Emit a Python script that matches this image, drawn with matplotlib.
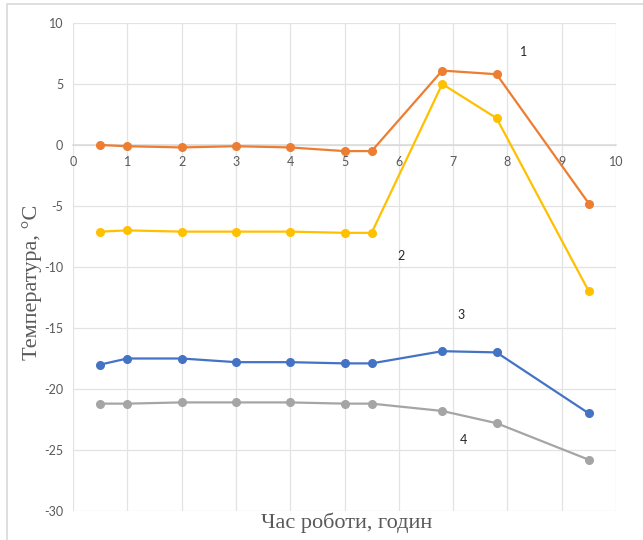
import matplotlib
matplotlib.use("Agg")
import matplotlib.pyplot as plt
from matplotlib.patches import Rectangle

plt.rcParams['axes.unicode_minus'] = False
plt.rcParams['font.family'] = ['Lato', 'DejaVu Sans']

# hours of operation
hours = [0.5, 1, 2, 3, 4, 5, 5.5, 6.8, 7.8, 9.5]

temp_1 = [0.0, -0.1, -0.2, -0.1, -0.2, -0.5, -0.5, 6.1, 5.8, -4.8]
temp_2 = [-7.1, -7.0, -7.1, -7.1, -7.1, -7.2, -7.2, 5.0, 2.2, -12.0]
temp_3 = [-18.0, -17.5, -17.5, -17.8, -17.8, -17.9, -17.9, -16.9, -17.0, -22.0]
temp_4 = [-21.2, -21.2, -21.1, -21.1, -21.1, -21.2, -21.2, -21.8, -22.8, -25.8]

curve_names = ['1', '2', '3', '4']
name_x = [8.3, 6.05, 7.15, 7.2]
name_y = [7.6, -9.1, -13.9, -24.2]

colors = ['#ED7D31', '#FFC000', '#4472C4', '#A5A5A5']
GRID = '#e3e3e3'

fig = plt.figure(figsize=(6.43, 5.40), dpi=100)
ax = fig.add_axes([73/643, 1-511/540, 543/643, 488/540])

# outer chart frame (only left and top edges are visible in the crop)
fig.patches.append(Rectangle((7/643, -0.1), 1.2, 1-4/540+0.1, transform=fig.transFigure,
                             fill=False, edgecolor='#d9d9d9', linewidth=1.2))

for ys, c in zip([temp_1, temp_2, temp_3, temp_4], colors):
    ax.plot(hours, ys, color=c, linewidth=1.6, marker='o', markersize=5.5, zorder=3)

for name, tx, ty in zip(curve_names, name_x, name_y):
    ax.text(tx, ty, name, fontsize=9, color='#262626', ha='center', va='center')

ax.set_xlim(0, 10)
ax.set_ylim(-30, 10)
ax.set_xticks(range(0, 11))
ax.set_yticks(range(-30, 11, 5))
ax.grid(True, color=GRID, linewidth=0.9)
ax.set_axisbelow(True)

for s in ['top', 'right', 'left']:
    ax.spines[s].set_visible(False)
ax.spines['bottom'].set_position(('data', 0))
ax.spines['bottom'].set_color('#d9d9d9')
ax.spines['bottom'].set_linewidth(1.1)

ax.tick_params(axis='both', length=0, labelsize=9, labelcolor='#595959')
ax.tick_params(axis='y', pad=7)
ax.tick_params(axis='x', pad=8)

ax.set_ylabel('Температура, °С', family='Liberation Serif', fontsize=16, color='#595959')
ax.yaxis.set_label_coords(-0.057, 0.469)
fig.text(347/643, 1-523/540, 'Час роботи, годин', family='Liberation Serif', fontsize=16,
         color='#595959', ha='center', va='center')

fig.savefig('out.png', dpi=100)
